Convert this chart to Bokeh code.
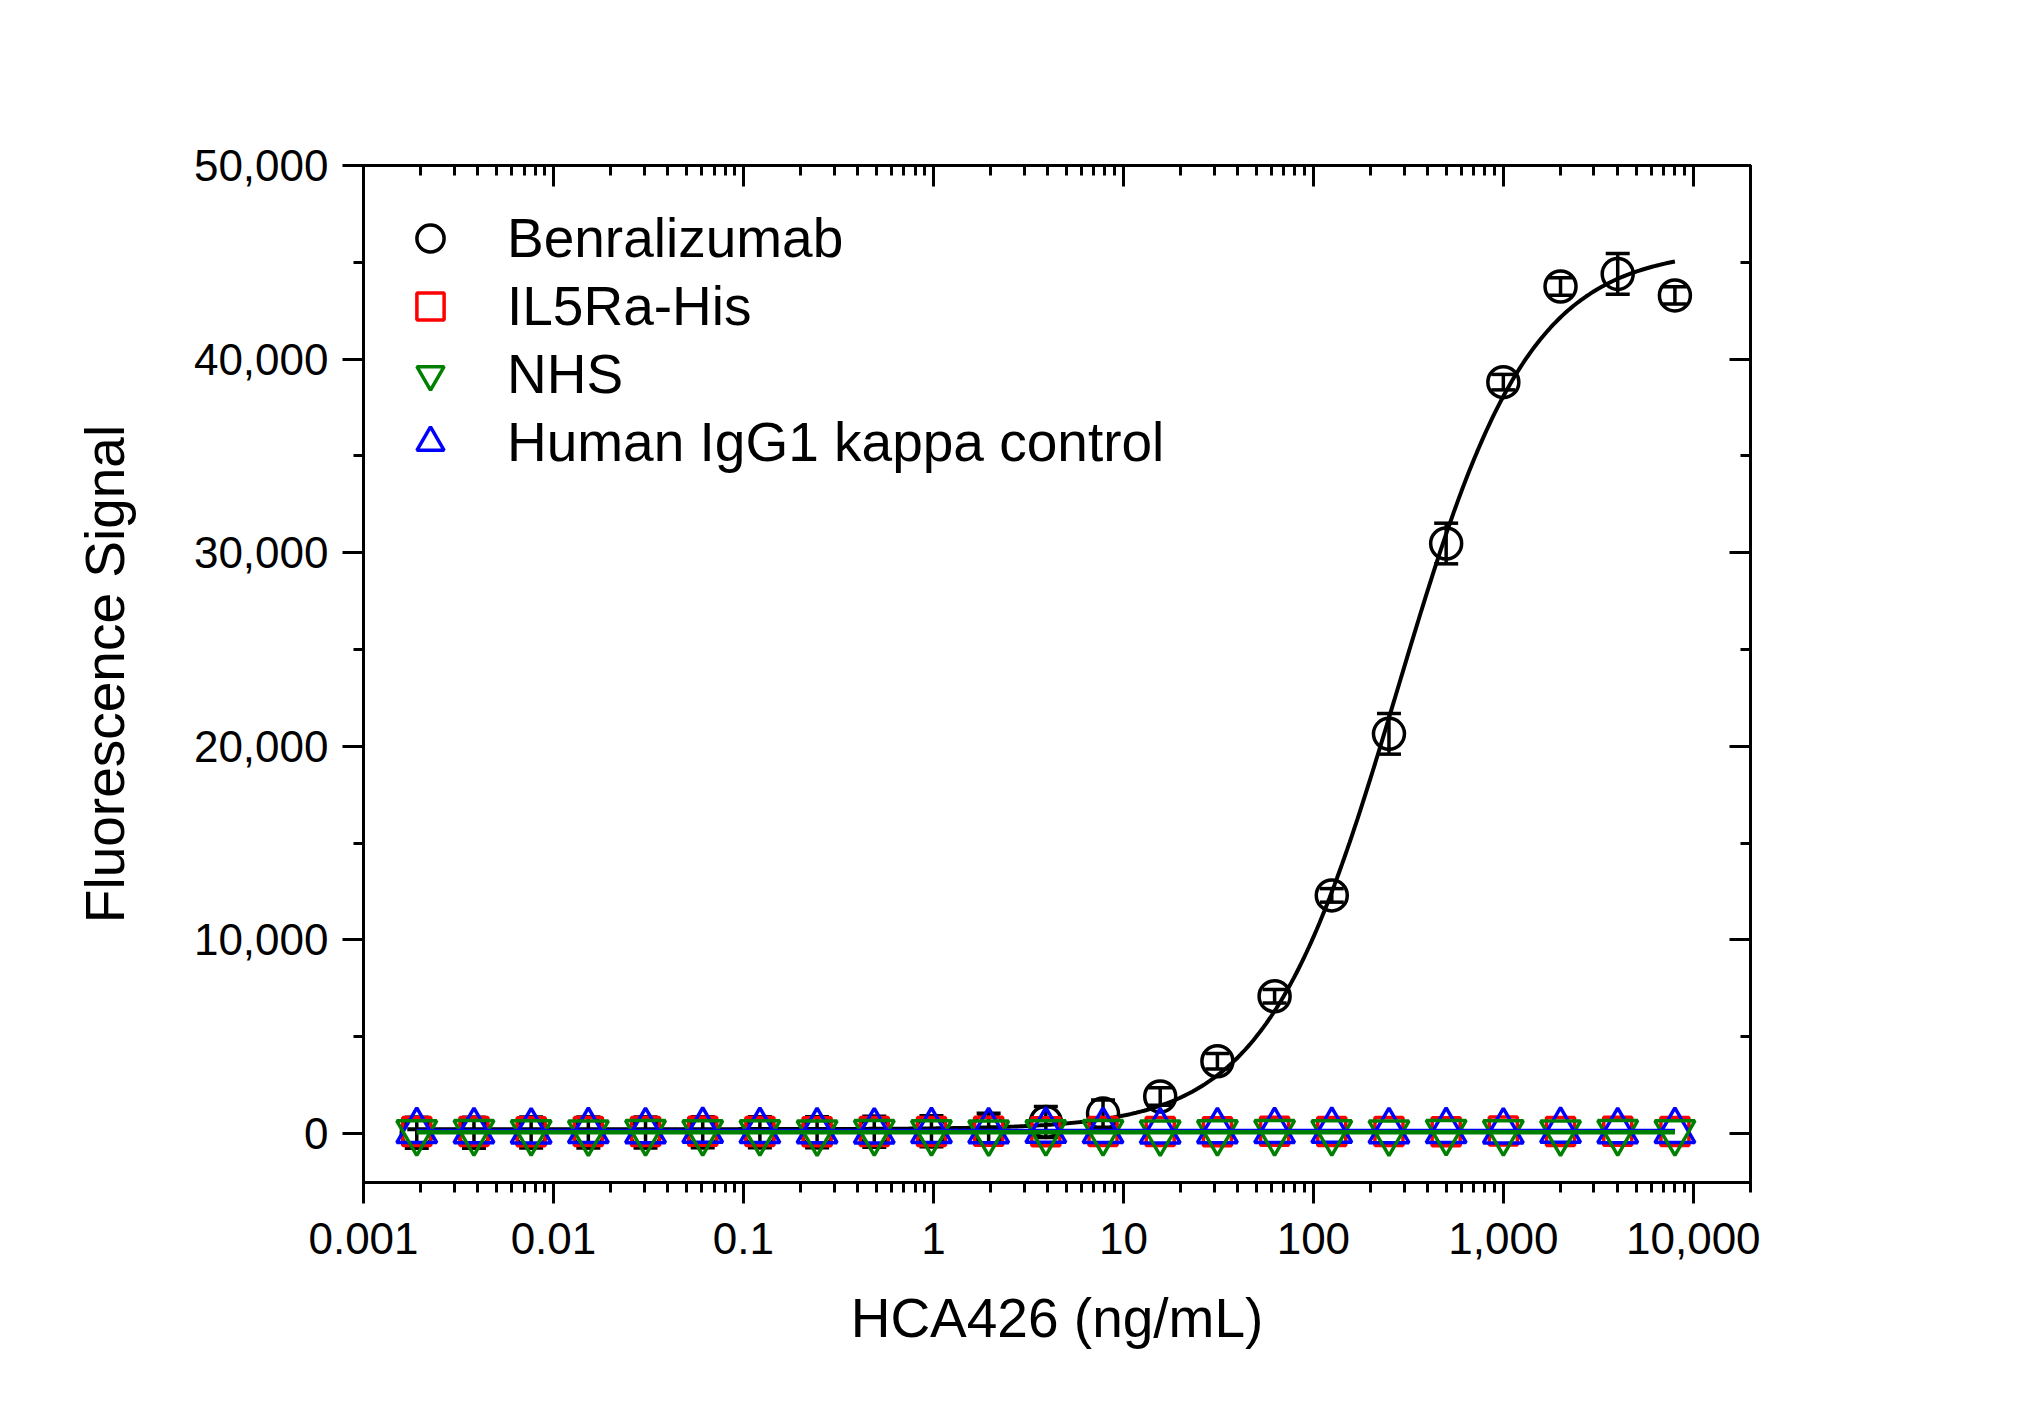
import numpy as np
from bokeh.plotting import figure
from bokeh.models import (ColumnDataSource, Whisker, TeeHead, LinearAxis, LogAxis, FixedTicker,
                          NumeralTickFormatter, CustomJSTickFormatter, Legend, LegendItem, Range1d)
from bokeh.embed import file_html
from bokeh.resources import INLINE

# ---------------- data ----------------
conc = [8000, 4000, 2000, 1000, 500, 250, 125, 62.5, 31.25, 15.625, 7.8125, 3.90625,
        1.953125, 0.9765625, 0.48828125, 0.244140625, 0.1220703125, 0.06103515625,
        0.030517578125, 0.0152587890625, 0.00762939453125, 0.003814697265625,
        0.0019073486328125]

benralizumab = [43290, 44400, 43750, 38810, 30475, 20645, 12300, 7090, 3735, 1910, 1030, 600,
                250, 120, 90, 70, 60, 60, 50, 50, 50, 40, 40]
benralizumab_err = [450, 1050, 450, 400, 1050, 1050, 350, 350, 400, 450, 700, 800,
                    800, 800, 800, 800, 800, 800, 800, 800, 800, 800, 800]

il5ra_his = [110, 120, 100, 130, 90, 110, 100, 120, 90, 110, 100, 90, 120, 100, 110, 90, 100,
             120, 110, 100, 90, 110, 100]
nhs = [60, 70, 50, 60, 80, 50, 60, 70, 60, 50, 70, 60, 50, 60, 70, 50, 60, 60, 70, 50, 60, 70, 60]
igg1_kappa = [130, 120, 140, 110, 130, 120, 140, 130, 120, 110, 130, 140, 120, 130, 110, 120, 130,
              140, 120, 130, 110, 120, 130]

x_decades = [0.001, 0.01, 0.1, 1, 10, 100, 1000, 10000]
y_major = [0, 10000, 20000, 30000, 40000, 50000]
y_minor = [5000, 15000, 25000, 35000, 45000]

FONT = "Liberation Sans"

# ---------------- 4PL fit of the Benralizumab data ----------------
xa = np.array(conc, dtype=float)
ya = np.array(benralizumab, dtype=float)
Cs = np.logspace(np.log10(50), np.log10(2000), 500)
hs = np.linspace(0.5, 2.5, 401)
g = 1.0 / (1.0 + (Cs[:, None, None] / xa[None, None, :]) ** hs[None, :, None])
gm = g.mean(axis=2, keepdims=True)
ym = ya.mean()
B = ((g - gm) * (ya - ym)).sum(axis=2, keepdims=True) / ((g - gm) ** 2).sum(axis=2, keepdims=True)
A = ym - B * gm
sse = ((ya - A - B * g) ** 2).sum(axis=2)
i, j = np.unravel_index(np.argmin(sse), sse.shape)
fA, fB, fC, fh = float(A[i, j, 0]), float(B[i, j, 0]), float(Cs[i]), float(hs[j])
xs = np.logspace(np.log10(xa.min()) - 0.05, np.log10(xa.max()), 500)
fit_y = fA + fB / (1.0 + (fC / xs) ** fh)

# ---------------- figure ----------------
p = figure(width=2033, height=1418, x_axis_type="log",
           x_range=Range1d(0.001, 20000), y_range=Range1d(-2530, 50000),
           output_backend="svg", toolbar_location=None,
           min_border_left=363, min_border_right=283, min_border_top=165, min_border_bottom=236)
p.grid.visible = False
p.outline_line_color = "black"
p.outline_line_width = 3
p.background_fill_color = "white"
p.border_fill_color = "white"

xminor = [m * d for d in x_decades[:-1] for m in range(2, 10)] + [m * 10000 for m in (2,)]
xt = FixedTicker(ticks=x_decades, minor_ticks=xminor)
yt = FixedTicker(ticks=y_major, minor_ticks=y_minor)

xax = p.xaxis[0]
xax.ticker = xt
xax.formatter = NumeralTickFormatter(format="0,0.[000]")
yax = p.yaxis[0]
yax.ticker = yt
yax.formatter = NumeralTickFormatter(format="0,0")

for ax in (xax, yax):
    ax.axis_line_width = 3
    ax.major_tick_line_width = 3
    ax.minor_tick_line_width = 3
    ax.major_tick_out = 21
    ax.major_tick_in = 0
    ax.minor_tick_out = 10
    ax.minor_tick_in = 0
    ax.major_label_text_font = FONT
    ax.major_label_text_font_size = "44px"
    ax.major_label_text_color = "black"
    ax.axis_label_text_font = FONT
    ax.axis_label_text_font_size = "55px"
    ax.axis_label_text_font_style = "normal"
    ax.axis_label_text_color = "black"

xax.axis_label = "HCA426 (ng/mL)"
xax.major_label_standoff = 19
xax.axis_label_standoff = 30
yax.axis_label = "Fluorescence Signal"
yax.major_label_standoff = 14
yax.axis_label_standoff = 55

blank = CustomJSTickFormatter(code="return ''")
top_ax = LogAxis(ticker=xt, formatter=blank)
right_ax = LinearAxis(ticker=yt, formatter=blank)
for ax in (top_ax, right_ax):
    ax.axis_line_width = 3
    ax.major_tick_line_width = 3
    ax.minor_tick_line_width = 3
    ax.major_tick_in = 21
    ax.major_tick_out = 0
    ax.minor_tick_in = 10
    ax.minor_tick_out = 0
    ax.major_label_text_font_size = "1px"
    ax.major_label_standoff = 0
p.add_layout(top_ax, "above")
p.add_layout(right_ax, "right")

# ---------------- glyphs ----------------
LW = 3.5
src_b = ColumnDataSource(dict(x=conc, y=benralizumab,
                              upper=[v + e for v, e in zip(benralizumab, benralizumab_err)],
                              lower=[v - e for v, e in zip(benralizumab, benralizumab_err)]))
wh = Whisker(base="x", upper="upper", lower="lower", source=src_b, dimension="height",
             line_color="black", line_width=LW, level="underlay",
             upper_head=TeeHead(size=24, line_width=LW, line_color="black"),
             lower_head=TeeHead(size=24, line_width=LW, line_color="black"))
p.add_layout(wh)

p.line(xs, fit_y, line_color="black", line_width=4)
r_b = p.scatter("x", "y", source=src_b, marker="circle", size=31, fill_alpha=0,
                line_color="black", line_width=LW)
r_r = p.scatter(conc, il5ra_his, marker="square", size=28, fill_alpha=0,
                line_color="#FF0000", line_width=LW)
r_bl = p.scatter(conc, igg1_kappa, marker="triangle", size=40, fill_alpha=0,
                 line_color="#0000FF", line_width=LW)
r_g = p.scatter(conc, nhs, marker="inverted_triangle", size=40, fill_alpha=0,
                line_color="#008000", line_width=LW)

xends = [min(conc), max(conc)]
for vals, col in ((il5ra_his, "#FF0000"), (igg1_kappa, "#0000FF"), (nhs, "#008000")):
    m = float(np.mean(vals))
    p.line(xends, [m, m], line_color=col, line_width=4.5)

legend = Legend(items=[LegendItem(label="Benralizumab", renderers=[r_b]),
                       LegendItem(label="IL5Ra-His", renderers=[r_r]),
                       LegendItem(label="NHS", renderers=[r_g]),
                       LegendItem(label="Human IgG1 kappa control", renderers=[r_bl])],
                location=(33, 706), padding=0, margin=0, spacing=0,
                glyph_width=68, glyph_height=68, label_height=68, label_standoff=43,
                label_text_font=FONT, label_text_font_size="55px", label_text_color="black",
                border_line_color=None, background_fill_alpha=0)
p.add_layout(legend)

open("out.html", "w").write(file_html(p, INLINE))
